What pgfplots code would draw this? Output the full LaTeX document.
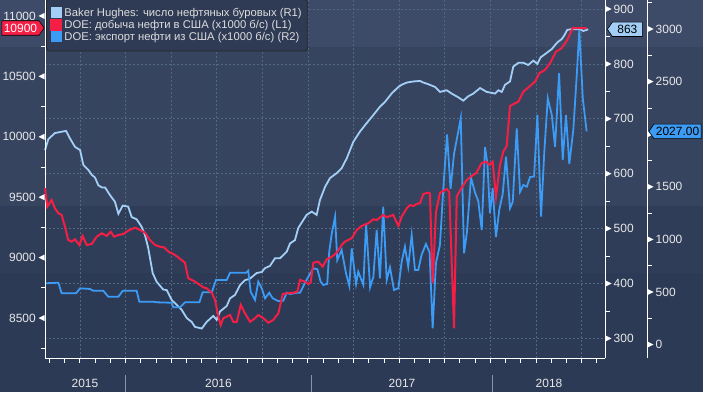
\documentclass[border=0pt]{standalone}
\usepackage{pgfplots}
\pgfplotsset{compat=1.18}
\usepackage{fontspec}
\setmainfont{Liberation Sans}
\usetikzlibrary{shapes.symbols}

\definecolor{bgA}{HTML}{3D4B68}
\definecolor{bgB}{HTML}{374460}
\definecolor{bgC}{HTML}{303D59}
\definecolor{bgD}{HTML}{2C3A56}
\definecolor{gridc}{HTML}{51697F}
\definecolor{tickc}{HTML}{E8E8E8}
\definecolor{lbc}{HTML}{A3CFF7}
\definecolor{redc}{HTML}{F51E45}
\definecolor{blc}{HTML}{3C9BF4}
\definecolor{legfill}{HTML}{2F3B55}
\definecolor{legtext}{HTML}{DDDDDD}
\definecolor{sepc}{HTML}{8595AD}

\newcommand{\tfont}{\fontsize{12}{12}\selectfont}

\pgfplotsset{
  base/.style={
    scale only axis, height=358bp, at={(45bp,34bp)}, anchor=south west,
    xmin=2015.5587, clip=false,
    axis line style={-, white, line width=1bp},
    tick align=outside,
    tick style={white, line width=0.8bp},
    major tick length=0bp, minor tick length=4.5bp,
    ticklabel style={font=\tfont, text=tickc},
    scaled y ticks=false, scaled x ticks=false,
    /pgf/number format/1000 sep={},
    /pgf/number format/assume math mode=true,
    yticklabel style={inner xsep=0bp},
  },
}

\begin{document}
\begin{tikzpicture}[x=1bp,y=1bp]
\useasboundingbox (0,0) rectangle (703,392);
\fill[bgD] (0,0) rectangle (703,119);
\fill[bgC] (0,119) rectangle (703,186);
\fill[bgB] (0,186) rectangle (703,345);
\fill[bgA] (0,345) rectangle (703,392);

% ---------- R1: Baker Hughes rigs ----------
\begin{axis}[base, width=560bp, xmax=2018.6289,
  axis x line*=bottom, axis y line*=right,
  ymin=264.3, ymax=916.4,
  ytick={300,400,...,900}, minor ytick={350,450,...,850},
  yticklabel style={xshift=8.5bp},
  xtick={2015.75,2016,...,2018.5}, xticklabel=\empty,
  minor xtick={2015.5833,2015.6667,2015.75,2015.8333,2015.9167,
    2016,2016.0833,2016.1667,2016.25,2016.3333,2016.4167,2016.5,2016.5833,2016.6667,2016.75,2016.8333,2016.9167,
    2017,2017.0833,2017.1667,2017.25,2017.3333,2017.4167,2017.5,2017.5833,2017.6667,2017.75,2017.8333,2017.9167,
    2018,2018.0833,2018.1667,2018.25,2018.3333,2018.4167,2018.5,2018.5833},
  grid=major, grid style={gridc, dash pattern=on 2bp off 2bp, line width=0.7bp},
]
\addplot[lbc, line width=1.8bp] coordinates {
(2015.559,643)(2015.577,663)(2015.613,674)(2015.674,678)(2015.696,664)(2015.723,649)(2015.751,643)(2015.769,616)(2015.796,607)(2015.815,598)(2015.833,593)(2015.851,579)(2015.870,575)(2015.888,575)(2015.915,561)(2015.942,549)(2015.961,527)(2015.985,542)(2016.015,540)(2016.034,521)(2016.061,517)(2016.089,503)(2016.107,488)(2016.125,464)(2016.149,419)(2016.171,403)(2016.207,389)(2016.226,388)(2016.253,370)(2016.281,361)(2016.308,352)(2016.336,337)(2016.363,330)(2016.381,321)(2016.418,318)(2016.445,330)(2016.481,341)(2016.500,334)(2016.518,349)(2016.555,359)(2016.573,373)(2016.600,379)(2016.628,397)(2016.655,406)(2016.683,409)(2016.719,419)(2016.747,421)(2016.765,428)(2016.792,432)(2016.820,446)(2016.847,446)(2016.884,458)(2016.902,473)(2016.929,479)(2016.947,501)(2016.966,511)(2016.993,525)(2017.021,531)(2017.048,525)(2017.066,552)(2017.094,576)(2017.121,592)(2017.158,601)(2017.185,610)(2017.213,628)(2017.249,658)(2017.286,677)(2017.322,692)(2017.359,707)(2017.395,722)(2017.423,731)(2017.459,746)(2017.496,758)(2017.514,762)(2017.542,766)(2017.578,768)(2017.615,769)(2017.633,766)(2017.660,763)(2017.697,758)(2017.724,749)(2017.761,752)(2017.788,746)(2017.825,739)(2017.852,733)(2017.879,741)(2017.907,746)(2017.944,756)(2017.980,749)(2018.026,746)(2018.044,752)(2018.063,749)(2018.081,762)(2018.108,768)(2018.126,795)(2018.154,802)(2018.181,802)(2018.208,798)(2018.236,806)(2018.258,800)(2018.276,812)(2018.309,820)(2018.337,827)(2018.367,839)(2018.391,845)(2018.404,851)(2018.422,862)(2018.441,863)(2018.492,863)(2018.510,860)(2018.537,863)
};
\pgfplotsinvokeforeach{300,400,500,600,700,800,900}{
  \fill[white] ([xshift=0.5bp,yshift=3bp]axis cs:2018.6289,#1) -- ([xshift=0.5bp,yshift=-3bp]axis cs:2018.6289,#1) -- ([xshift=6.5bp]axis cs:2018.6289,#1) -- cycle;
}
\coordinate (tagR1) at (axis cs:2018.6289,863);
\end{axis}

% ---------- R2: exports ----------
\begin{axis}[base, width=602bp, xmax=2018.8591,
  axis x line=none, axis y line*=right,
  ymin=-127.4, ymax=3275.7,
  ytick={0,500,1000,1500,2500,3000}, minor ytick={250,750,...,3250},
  yticklabel style={xshift=8.5bp},
]
\addplot[blc, line width=1.8bp] coordinates {
(2015.559,583)(2015.632,588)(2015.650,488)(2015.729,488)(2015.751,535)(2015.805,529)(2015.823,512)(2015.878,512)(2015.906,455)(2015.961,455)(2015.985,512)(2016.061,512)(2016.076,408)(2016.152,408)(2016.171,402)(2016.253,398)(2016.262,355)(2016.299,355)(2016.326,402)(2016.405,402)(2016.423,497)(2016.473,497)(2016.496,614)(2016.555,614)(2016.573,683)(2016.661,683)(2016.673,703)(2016.686,503)(2016.710,424)(2016.728,598)(2016.747,535)(2016.765,440)(2016.788,493)(2016.807,440)(2016.838,414)(2016.865,417)(2016.884,493)(2016.902,481)(2016.939,493)(2016.957,493)(2016.984,588)(2017.008,662)(2017.030,725)(2017.052,716)(2017.070,598)(2017.084,567)(2017.106,576)(2017.117,883)(2017.131,1058)(2017.149,1216)(2017.161,804)(2017.185,899)(2017.209,678)(2017.227,557)(2017.240,915)(2017.264,576)(2017.276,693)(2017.304,567)(2017.319,1153)(2017.341,545)(2017.359,645)(2017.377,1089)(2017.395,630)(2017.413,1311)(2017.432,614)(2017.450,735)(2017.472,519)(2017.496,535)(2017.514,788)(2017.532,931)(2017.550,741)(2017.569,1042)(2017.587,709)(2017.605,709)(2017.623,852)(2017.647,956)(2017.667,880)(2017.684,155)(2017.702,776)(2017.724,947)(2017.742,1479)(2017.763,1997)(2017.782,1479)(2017.801,1812)(2017.838,2151)(2017.856,868)(2017.872,1070)(2017.894,1588)(2017.916,1446)(2017.934,1365)(2017.953,1089)(2017.971,1878)(2017.984,1723)(2017.998,1248)(2018.013,1486)(2018.031,1023)(2018.049,1280)(2018.068,1432)(2018.086,1786)(2018.108,1296)(2018.123,1356)(2018.145,2056)(2018.163,1453)(2018.181,1517)(2018.200,1501)(2018.218,1593)(2018.240,1598)(2018.258,2183)(2018.278,1216)(2018.296,1831)(2018.315,2341)(2018.337,2183)(2018.355,1881)(2018.377,2579)(2018.397,1755)(2018.415,2183)(2018.433,1717)(2018.455,2040)(2018.474,2563)(2018.488,2990)(2018.507,2341)(2018.528,2027)
};
\pgfplotsinvokeforeach{0,500,1000,1500,2000,2500,3000}{
  \fill[white] ([xshift=0.5bp,yshift=3bp]axis cs:2018.8591,#1) -- ([xshift=0.5bp,yshift=-3bp]axis cs:2018.8591,#1) -- ([xshift=6.5bp]axis cs:2018.8591,#1) -- cycle;
}
\coordinate (tagR2) at (axis cs:2018.8591,2027);
\end{axis}

% ---------- L1: production ----------
\begin{axis}[base, width=560bp, xmax=2018.6289,
  axis x line=none, axis y line*=left,
  ymin=8169, ymax=11132,
  ytick={8500,9000,...,11000}, minor ytick={8250,8750,...,10750},
  yticklabel style={xshift=-9bp},
  legend cell align=left,
  legend style={at={(0,1)}, anchor=north west, xshift=1bp, yshift=1bp,
    fill=legfill, draw=black!85, rounded corners=3bp, line width=0.8bp,
    font=\fontsize{11.3}{13}\selectfont, text=legtext,
    inner xsep=4bp, inner ysep=8bp, row sep=0bp,
    nodes={inner ysep=0.9bp, inner xsep=2bp}},
  legend image code/.code={\fill[#1, sharp corners] (0bp,-4.5bp) rectangle (10bp,5.5bp);},
]
\addlegendimage{lbc}
\addlegendentry{Baker Hughes: число нефтяных буровых (R1)}
\addplot[redc, line width=2bp] coordinates {
(2015.559,9574)(2015.571,9421)(2015.595,9477)(2015.613,9408)(2015.632,9367)(2015.650,9353)(2015.668,9256)(2015.686,9146)(2015.705,9132)(2015.723,9152)(2015.747,9104)(2015.765,9179)(2015.787,9104)(2015.815,9113)(2015.842,9173)(2015.870,9201)(2015.897,9179)(2015.919,9214)(2015.937,9173)(2015.961,9187)(2015.988,9195)(2016.015,9223)(2016.052,9248)(2016.080,9229)(2016.107,9206)(2016.134,9146)(2016.162,9104)(2016.189,9090)(2016.211,9085)(2016.235,9049)(2016.262,9030)(2016.289,9002)(2016.326,8958)(2016.344,8829)(2016.372,8809)(2016.390,8792)(2016.427,8754)(2016.445,8746)(2016.473,8709)(2016.491,8649)(2016.509,8511)(2016.522,8442)(2016.536,8498)(2016.573,8525)(2016.591,8469)(2016.610,8469)(2016.632,8608)(2016.655,8539)(2016.683,8469)(2016.710,8498)(2016.728,8525)(2016.756,8498)(2016.783,8461)(2016.810,8484)(2016.838,8539)(2016.862,8699)(2016.884,8704)(2016.920,8709)(2016.942,8718)(2016.957,8815)(2016.984,8801)(2017.002,8781)(2017.015,8792)(2017.030,8958)(2017.057,8966)(2017.081,8925)(2017.103,8986)(2017.131,9007)(2017.158,9041)(2017.185,9104)(2017.203,9132)(2017.240,9160)(2017.268,9229)(2017.295,9262)(2017.331,9284)(2017.359,9317)(2017.377,9311)(2017.413,9353)(2017.432,9334)(2017.468,9353)(2017.496,9262)(2017.514,9339)(2017.542,9408)(2017.560,9435)(2017.578,9427)(2017.597,9444)(2017.615,9452)(2017.633,9527)(2017.660,9537)(2017.669,9532)(2017.684,8787)(2017.702,9377)(2017.724,9535)(2017.761,9568)(2017.775,9543)(2017.801,8415)(2017.816,9504)(2017.843,9580)(2017.871,9642)(2017.893,9671)(2017.922,9698)(2017.953,9783)(2017.977,9794)(2017.995,9767)(2018.013,9794)(2018.031,9504)(2018.053,9767)(2018.071,9877)(2018.090,9924)(2018.108,10255)(2018.135,10277)(2018.154,10291)(2018.181,10373)(2018.214,10415)(2018.245,10456)(2018.269,10526)(2018.300,10553)(2018.327,10608)(2018.360,10704)(2018.391,10733)(2018.422,10801)(2018.452,10900)(2018.528,10900)
};
\addlegendentry{DOE: добыча нефти в США (x1000 б/с) (L1)}
\addlegendimage{blc}
\addlegendentry{DOE: экспорт нефти из США (x1000 б/с) (R2)}
\pgfplotsinvokeforeach{8500,9000,9500,10000,10500,11000}{
  \fill[white] ([xshift=-0.5bp,yshift=3bp]axis cs:2015.5587,#1) -- ([xshift=-0.5bp,yshift=-3bp]axis cs:2015.5587,#1) -- ([xshift=-6.5bp]axis cs:2015.5587,#1) -- cycle;
}
\coordinate (tagL1) at (axis cs:2015.5587,10900);
\end{axis}

% value tags
\node[signal, signal to=east, signal pointer angle=110, fill=redc, draw=black, line width=0.6bp,
  text=white, font=\tfont, inner xsep=2bp, inner ysep=3bp, anchor=east] at ([xshift=-0.5bp]tagL1) {10900};
\node[signal, signal to=west, signal pointer angle=110, fill=lbc, draw=black, line width=0.6bp,
  text=black, font=\tfont, inner xsep=5bp, inner ysep=3bp, anchor=west] at ([xshift=2bp]tagR1) {863};
\node[signal, signal to=west, signal pointer angle=110, fill=blc, draw=black, line width=0.6bp,
  text=black, font=\tfont, inner xsep=2bp, inner ysep=3bp, anchor=west] at ([xshift=1.5bp]tagR2) {2027.00};

% year labels
\foreach \x/\t in {85/2015, 218.5/2016, 402/2017, 549/2018}
  \node[font=\tfont, text=tickc] at (\x,9) {\t};
\foreach \x in {125.5, 311.6, 492.8}
  \draw[sepc, line width=0.8bp] (\x,0) -- (\x,17);
\end{tikzpicture}
\end{document}
